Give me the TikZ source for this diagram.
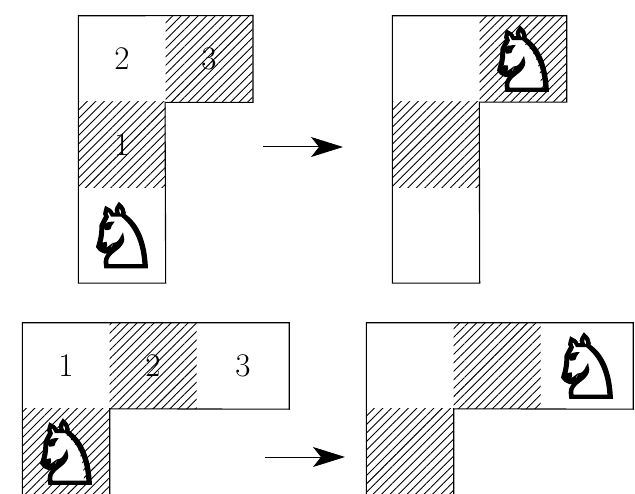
\documentclass[tikz,border=0pt]{standalone}
\usepackage{fontspec}
\usetikzlibrary{patterns.meta,arrows.meta}
\newfontfamily\chessfont[FakeBold=3.5]{DejaVu Sans}
\newfontfamily\chessfill{DejaVu Sans}
\newcommand{\wknight}{{\fontsize{86}{86}\rlap{\chessfill\color{white}♞}\chessfont ♘}}
\tikzset{
  cell/.style={minimum width=87pt, minimum height=86pt, inner sep=0pt, font=\fontsize{33}{33}\selectfont},
  wide/.style={minimum width=92pt},
  tall/.style={minimum height=95pt},
  hatch/.style={pattern={Lines[angle=45,distance=6pt,line width=0.9pt]}},
  outline/.style={line width=1.1pt},
  move/.style={line width=1pt, -{Stealth[length=32pt,width=20pt,inset=8pt]}}
}
\begin{document}
\begin{tikzpicture}[x=1pt, y=-1pt]
    \clip (0,0) rectangle (635,494);
    % top, before the move
    \node[cell] (tl2) at (122,59) {2};
    \node[cell,hatch] (tl3) at (209,59) {3};
    \node[cell,hatch] (tl1) at (122,145) {1};
    \node[cell,tall] (tlk) at (122,235.5) {\wknight};
    \draw[outline] (tl2.north west) -- (tl3.north east) -- (tl3.south east) -- (tl3.south west)
        -- (tlk.south east) -- (tlk.south west) -- cycle;
    % top, after the move
    \node[cell] (tr2) at (436,59) {};
    \node[cell,hatch] (tr3) at (523,59) {\wknight};
    \node[cell,hatch] (tr1) at (436,145) {};
    \node[cell,tall] (trk) at (436,235.5) {};
    \draw[outline] (tr2.north west) -- (tr3.north east) -- (tr3.south east) -- (tr3.south west)
        -- (trk.south east) -- (trk.south west) -- cycle;
    \coordinate (ta) at (263,147);
    \coordinate (tb) at (343,147);
    \draw[move] (ta) -- (tb);
    % bottom, before the move
    \node[cell] (bl1) at (66,366) {1};
    \node[cell,hatch] (bl2) at (153,366) {2};
    \node[cell,wide] (bl3) at (243,366) {3};
    \node[cell,hatch] (blk) at (66,452) {\wknight};
    \draw[outline] (blk.south west) -- (bl1.north west) -- (bl3.north east) -- (bl3.south east)
        -- (blk.north east) -- (blk.south east);
    % bottom, after the move
    \node[cell] (br1) at (410,366) {};
    \node[cell,hatch] (br2) at (497,366) {};
    \node[cell,wide] (br3) at (587,366) {\wknight};
    \node[cell,hatch] (brk) at (410,452) {};
    \draw[outline] (brk.south west) -- (br1.north west) -- (br3.north east) -- (br3.south east)
        -- (brk.north east) -- (brk.south east);
    \coordinate (ba) at (265,457);
    \coordinate (bb) at (345,457);
    \draw[move] (ba) -- (bb);
\end{tikzpicture}
\end{document}
